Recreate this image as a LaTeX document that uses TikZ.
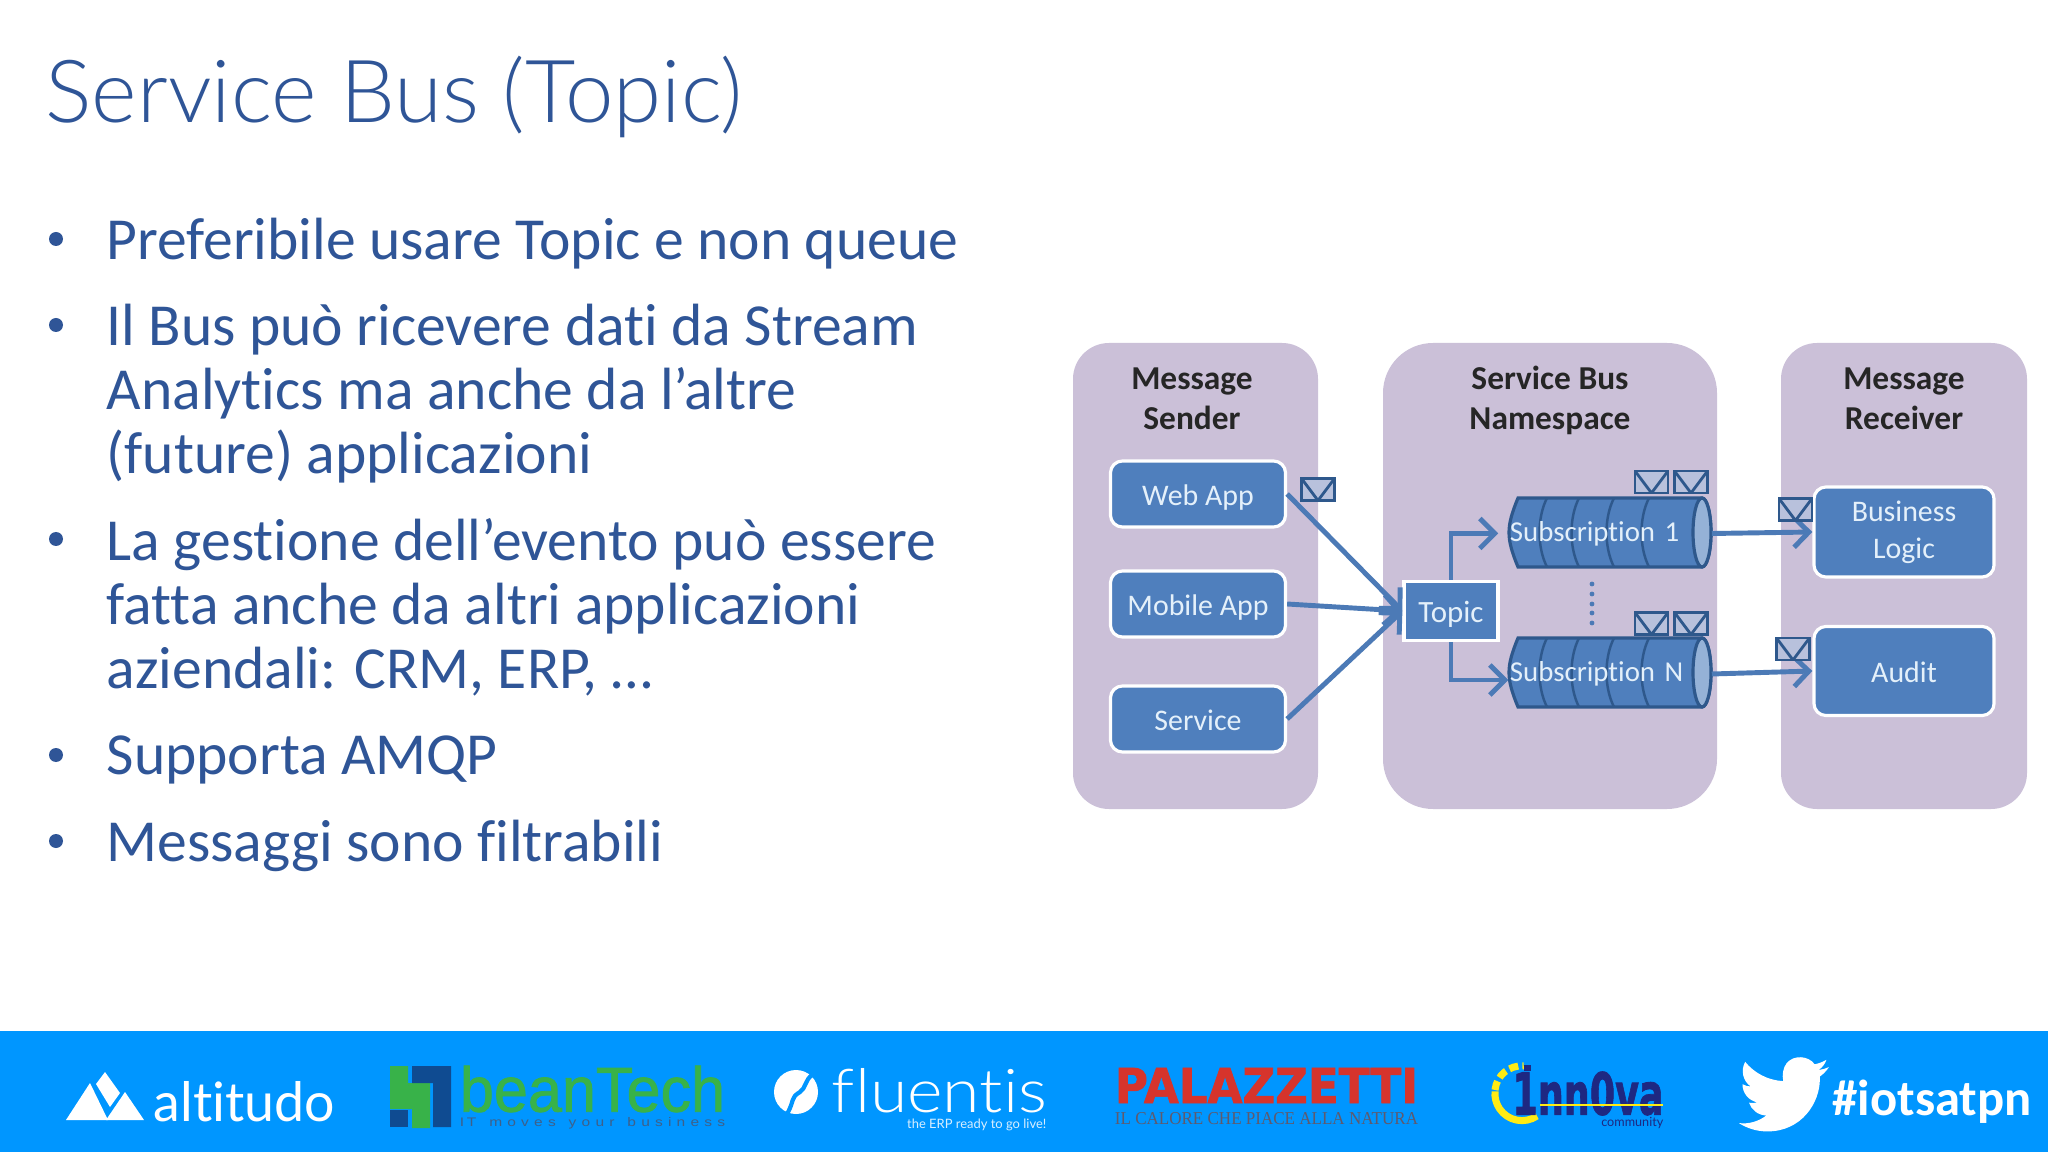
\documentclass[tikz,border=0pt]{standalone}
\usepackage{fontspec}
\usepackage{xcolor}
\setmainfont[Ligatures=NoCommon]{Carlito}
\newfontfamily\logosans[Ligatures=NoCommon]{Lato}
\newfontfamily\logolight[Ligatures=NoCommon]{Lato Light}
\newfontfamily\logoarial{Liberation Sans}
\newfontfamily\logofat[FakeBold=1.2]{Liberation Sans}
\newfontfamily\logoserif{Liberation Serif}
\newfontfamily\logoheavy[BoldFeatures={FakeBold=1.5}]{DejaVu Sans}
\usetikzlibrary{arrows.meta, positioning, calc}
\definecolor{slideblue}{RGB}{47,85,151}
\definecolor{panelmauve}{RGB}{203,192,216}
\definecolor{boxblue}{RGB}{79,127,189}
\definecolor{linkblue}{RGB}{76,122,182}
\definecolor{darkblue}{RGB}{46,88,140}
\definecolor{boxtext}{RGB}{228,240,250}
\definecolor{barblue}{RGB}{0,150,255}
\definecolor{beangreen}{RGB}{56,178,73}
\definecolor{beannavy}{RGB}{15,75,145}
\definecolor{innovanavy}{RGB}{30,40,130}
\definecolor{innovayellow}{RGB}{255,235,20}
\tikzset{
  paneltext/.style={font=\fontsize{9.5}{8.9}\selectfont\bfseries, align=center, text=black!85},
  bullettext/.style={anchor=north west, inner sep=0pt, align=left, text=slideblue,
    font=\fontsize{16.95}{18.2}\selectfont},
  appbox/.style={draw=white, line width=.9pt, fill=boxblue, rounded corners=.12cm, text=boxtext,
    align=center, font=\fontsize{8.5}{10.4}\selectfont},
  topicbox/.style={draw=white, line width=.9pt, fill=boxblue, text=boxtext,
    text height=.25cm, text depth=.03cm, font=\fontsize{8.8}{10}\selectfont},
  subbox/.style={inner xsep=.01cm, text width=2cm, minimum height=.69cm, align=left,
    text=boxtext, font=\fontsize{8.2}{10}\selectfont},
  envbox/.style={draw=darkblue, line width=.8pt, fill=panelmauve!60!boxblue!70, inner sep=0pt,
    minimum width=.33cm, minimum height=.22cm,
    path picture={\draw[darkblue, line width=.8pt] (path picture bounding box.north west)
      -- ($(path picture bounding box.south)+(0,.03)$) -- (path picture bounding box.north east);}},
  linkarrow/.style={draw=linkblue, line width=1.4pt, -{Straight Barb[length=.15cm, width=.3cm, line width=1.4pt]}},
  logotext/.style={inner sep=0pt, text=white}
}
\begin{document}
\begin{tikzpicture}[x=.01cm, y=-.01cm]
\useasboundingbox (0,0) rectangle (2048,1152);
\fill[white] (0,0) rectangle (2048,1152);

% Title and bullets
\node[anchor=base west, inner sep=0pt, text=slideblue, font=\logolight\fontsize{24.75}{30}\selectfont] (title) at (45,123) {Service Bus (Topic)};

\foreach \by in {239,325,539,755,841} {
  \fill[slideblue] (56,\by) circle (7);
}
\node[bullettext] (bulletA) at (106,217) {Preferibile usare Topic e non queue};
\node[bullettext] (bulletB) at (106,303) {Il Bus può ricevere dati da Stream\\Analytics ma anche da l’altre\\(future) applicazioni};
\node[bullettext] (bulletC) at (106,518) {La gestione dell’evento può essere\\fatta anche da altri applicazioni\\aziendali: CRM, ERP, …};
\node[bullettext] (bulletD) at (106,735) {Supporta AMQP};
\node[bullettext] (bulletE) at (106,819) {Messaggi sono filtrabili};

% Three panels
\fill[panelmauve, rounded corners=.36cm] (1073,343) rectangle (1318,809);
\fill[panelmauve, rounded corners=.5cm] (1383,343) rectangle (1717,809);
\fill[panelmauve, rounded corners=.36cm] (1781,343) rectangle (2027,809);
\node[paneltext] (senderlabel) at (1192,398.5) {Message\\[2.5pt]Sender};
\node[paneltext] (buslabel) at (1550,400.5) {Service Bus\\[2.5pt]Namespace};
\node[paneltext] (receiverlabel) at (1904,398.5) {Message\\[2.5pt]Receiver};

% Sender side
\node[appbox, text height=.25cm, text depth=.03cm, minimum width=1.75cm, minimum height=.66cm] (webapp) at (1198,494) {Web App};
\node[appbox, text height=.25cm, text depth=.03cm, minimum width=1.75cm, minimum height=.66cm] (mobileapp) at (1198,604) {Mobile App};
\node[appbox, text height=.25cm, text depth=.03cm, minimum width=1.75cm, minimum height=.66cm] (service) at (1198,719) {Service};
\node[topicbox, minimum width=.94cm, minimum height=.59cm] (topic) at (1451,611) {Topic};

% Subscription pipes
\foreach \cy in {532.5,672.5} {
  \draw[darkblue, line width=.9pt, fill=boxblue] (1518,\cy-34.5) -- (1702,\cy-34.5)
    arc[start angle=-90, end angle=90, x radius=9, y radius=34.5] -- (1518,\cy+34.5)
    .. controls (1512,\cy+20) and (1509,\cy+10) .. (1509,\cy)
    .. controls (1509,\cy-10) and (1512,\cy-20) .. (1518,\cy-34.5) -- cycle;
  \foreach \rx in {1547,1579,1614,1649} {
    \draw[darkblue, line width=.7pt] (\rx,\cy-34.5)
      .. controls (\rx-10,\cy-15) and (\rx-10,\cy+15) .. (\rx,\cy+34.5);
  }
  \draw[darkblue, line width=.9pt, fill=boxblue!60!white] (1702,\cy) ellipse (9 and 34.5);
}
\node[subbox] (subone) at (1610,533.5) {Subscription 1};
\node[subbox] (subn) at (1610,674) {Subscription N};
\fill[linkblue] (1592,584) circle (2.4) (1592,594) circle (2.4) (1592,604) circle (2.4)
  (1592,613) circle (2.4) (1592,623) circle (2.4);

% Receiver side
\node[appbox, minimum width=1.80cm, minimum height=.90cm] (logic) at (1904,532) {Business\\Logic};
\node[appbox, text height=.25cm, text depth=.03cm, minimum width=1.80cm, minimum height=.89cm] (audit) at (1904,671) {Audit};

% Arrows
\draw[linkarrow] (webapp.east) -- (topic.west);
\draw[linkarrow] (mobileapp.east) -- (topic.west);
\draw[linkarrow] (service.east) -- (topic.west);
\draw[linkarrow, shorten >=.1cm] (topic.north) |- (subone.west);
\draw[linkarrow] (topic.south) |- ([yshift=-.06cm]subn.west);
\draw[linkarrow] (subone.east) -- (logic.west);
\draw[linkarrow] (subn.east) -- (audit.west);

% Envelopes
\node[envbox] (envweb) at (1318,489.5) {};
\node[envbox] (envoneA) at (1651.5,482) {};
\node[envbox] (envoneB) at (1691,482) {};
\node[envbox] (envnA) at (1651.5,623.5) {};
\node[envbox] (envnB) at (1691,623.5) {};
\node[envbox] (envlogic) at (1795.5,509.5) {};
\node[envbox] (envaudit) at (1793,649) {};

% Sponsor bar
\fill[barblue] (0,1031) rectangle (2048,1152);

% altitudo
\fill[white] (66,1120) -- (90,1083) -- (108,1120) -- cycle;
\fill[white] (105,1072) -- (120,1093) -- (110,1107) -- (96,1084) -- cycle;
\fill[white] (106,1120) -- (125,1092) -- (144,1120) -- cycle;
\node[logotext] (altitudo) at (244.5,1102) {\resizebox{1.81cm}{.40cm}{\logosans altitudo}};

% beanTech
\fill[beangreen] (390,1066) -- (408,1066) -- (408,1083) -- (430,1083) -- (430,1128)
  -- (412,1128) -- (412,1109) -- (390,1109) -- cycle;
\fill[beannavy] (412,1066) -- (451,1066) -- (451,1127) -- (433,1127) -- (433,1083) -- (412,1083) -- cycle;
\fill[beannavy] (390,1110) rectangle (408,1127);
\node[inner sep=0pt, text=beangreen] (beantech) at (592.5,1089) {\resizebox{2.65cm}{.46cm}{\logofat beanTech}};
\node[inner sep=0pt, text=darkblue!80!gray] (beantag) at (592.5,1123) {\resizebox{2.65cm}{.09cm}{\logoarial I\,T\ \ \ m\,\,o\,\,v\,\,e\,\,s\ \ \ y\,\,o\,\,u\,\,r\ \ \ b\,\,u\,\,s\,\,i\,\,n\,\,e\,\,s\,\,s}};

% fluentis
\fill[white] (796,1092) circle (22);
\draw[barblue, line width=1.2pt] (787,1114) .. controls (795,1100) and (790,1098) .. (800,1092) .. controls (806,1088) and (805,1080) .. (812,1075);
\node[logotext] (fluentis) at (939.5,1091) {\resizebox{2.15cm}{.44cm}{\logolight fluentis}};
\node[logotext, anchor=east, text=white!85!barblue] (fluentistag) at (1047,1125) {\resizebox{1.39cm}{!}{\logosans the ERP ready to go live!}};

% Palazzetti
\node[inner sep=0pt, text={rgb,255:red,214;green,52;blue,44}] (palazzetti) at (1266.5,1085.5) {\resizebox{3.03cm}{.35cm}{\logoheavy\bfseries PALAZZETTI}};
\node[inner sep=0pt, text={rgb,255:red,95;green,90;blue,110}] (paltag) at (1266.5,1119) {\resizebox{3.03cm}{.12cm}{\logoserif IL CALORE CHE PIACE ALLA NATURA}};

% Inn0va
\draw[innovayellow, line width=2pt] (1537,1116) arc[start angle=56, end angle=185, radius=27];
\draw[innovayellow, line width=2pt, dash pattern=on 2.6pt off 1.2pt] (1495,1090) arc[start angle=186, end angle=274, radius=27];
\node[inner sep=0pt, text=innovanavy] (innova) at (1588,1093.5) {\resizebox{1.51cm}{.43cm}{\logoheavy\bfseries 1nn0va}};
\draw[innovayellow, line width=.7pt] (1540,1105) -- (1663,1105);
\fill[innovanavy] (1524,1065) rectangle (1531,1071);
\node[inner sep=0pt, anchor=east, text=innovanavy] (community) at (1664,1123) {\resizebox{.62cm}{!}{\logosans community}};

% Twitter bird
\begin{scope}[shift={(1739,1050)}, x=.0375cm, y=-.0375cm]
\fill[white] (23.95,4.57) .. controls (23.1,4.95) and (22.1,5.2) .. (21.13,5.35)
  .. controls (22.1,4.75) and (22.9,3.8) .. (23.29,2.62)
  .. controls (22.3,3.17) and (21.3,3.6) .. (20.16,3.8)
  .. controls (18.5,1.5) and (14.6,1.2) .. (12.7,3.5)
  .. controls (11.7,4.8) and (11.45,6.6) .. (11.78,8.29)
  .. controls (7.69,8.09) and (4.07,6.13) .. (1.64,3.16)
  .. controls (.4,5.4) and (1,8.3) .. (3.16,9.73)
  .. controls (2.36,9.7) and (1.6,9.5) .. (.93,9.12)
  .. controls (.9,11.5) and (2.6,13.5) .. (4.88,13.95)
  .. controls (4.15,14.15) and (3.4,14.2) .. (2.67,14.04)
  .. controls (3.3,15.95) and (5.1,17.4) .. (7.27,17.45)
  .. controls (5.5,18.8) and (3.4,19.55) .. (1.17,19.55)
  .. controls (.78,19.55) and (.39,19.53) .. (0,19.49)
  .. controls (2.2,20.9) and (4.8,21.7) .. (7.56,21.7)
  .. controls (16.6,21.7) and (21.55,14.2) .. (21.55,7.7)
  .. controls (21.55,7.5) and (21.55,7.3) .. (21.54,7.07)
  .. controls (22.5,6.4) and (23.3,5.55) .. (23.95,4.57) -- cycle;
\end{scope}
\node[anchor=base west, inner sep=0pt, text=white, font=\fontsize{14.4}{15}\selectfont\bfseries] (hashtag) at (1832,1115) {\#iotsatpn};
\end{tikzpicture}
\end{document}
